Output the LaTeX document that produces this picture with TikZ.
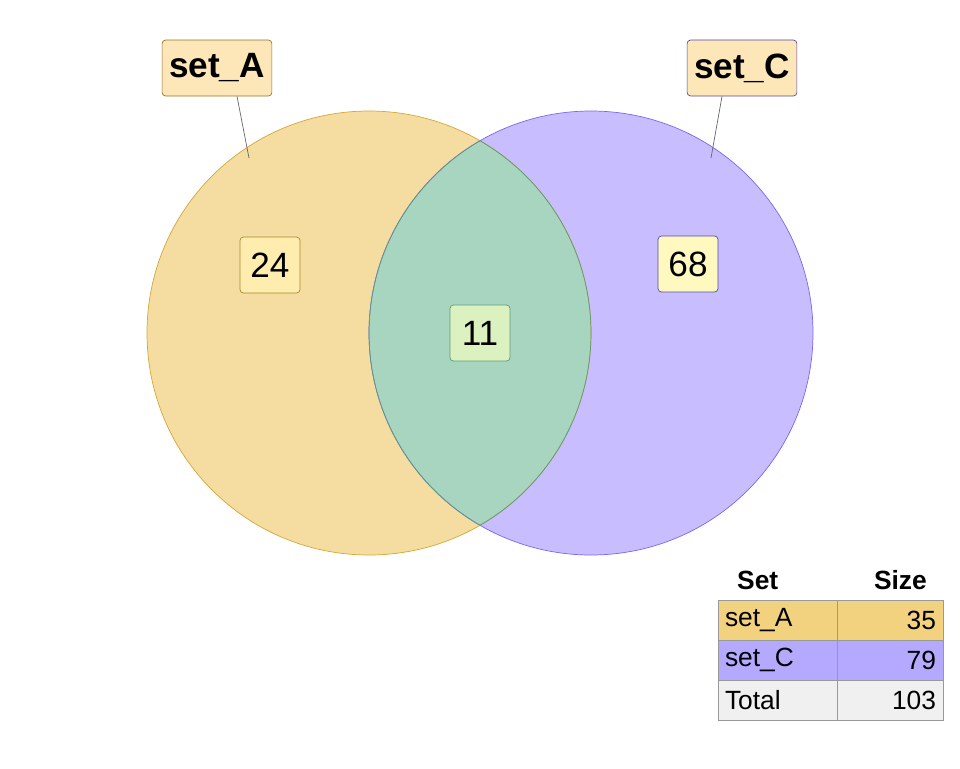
\documentclass[tikz,border=0pt]{standalone}
\usepackage{fontspec}
\setmainfont{Liberation Sans}
\definecolor{fillA}{HTML}{F5DCA0}
\definecolor{lineA}{HTML}{D4A838}
\definecolor{fillC}{HTML}{C8BEFF}
\definecolor{lineC}{HTML}{7B68EE}
\definecolor{fillAC}{HTML}{A8D5BF}
\definecolor{lineAC}{HTML}{5E9A7A}
\definecolor{rowA}{HTML}{F2D27E}
\definecolor{rowC}{HTML}{B4A8FF}
\definecolor{rowT}{HTML}{F0F0F0}
\begin{document}
\begin{tikzpicture}[x=0.02cm,y=-0.02cm]
  \tikzstyle{setlabel}=[draw=#1!70!black,fill=yellow!30!orange!25!white,rounded corners=2pt,
    font=\fontsize{20}{22}\selectfont\bfseries,inner sep=4pt,minimum height=56*0.02cm]
  \tikzstyle{count}=[draw=#1,rounded corners=2pt,font=\fontsize{20}{22}\selectfont,inner sep=3pt,
    minimum height=56*0.02cm,minimum width=60*0.02cm]
  \tikzstyle{cell}=[draw=gray!80,minimum height=40*0.02cm,font=\fontsize{15}{17}\selectfont,inner sep=4pt]
  \useasboundingbox (0,0) rectangle (960,768);
  % circles
  \fill[fillA] (369,333) circle (222);
  \fill[fillC] (591,333) circle (222);
  \begin{scope}
    \clip (369,333) circle (222);
    \fill[fillAC] (591,333) circle (222);
  \end{scope}
  \draw[lineA] (369,333) circle (222);
  \draw[lineC] (591,333) circle (222);
  \begin{scope}
    \clip (369,333) circle (222);
    \draw[lineAC] (591,333) circle (222);
  \end{scope}
  \begin{scope}
    \clip (591,333) circle (222);
    \draw[lineAC] (369,333) circle (222);
  \end{scope}
  % labels
  \node[setlabel=lineA] (labA) at (217,68) {set\_A};
  \node[setlabel=lineC] (labC) at (742,68) {set\_C};
  \coordinate (tipA) at (249,158);
  \coordinate (tipC) at (711,158);
  \draw[black!60] (labA.south) ++(20*0.02cm,0) -- (tipA);
  \draw[black!60] (labC.south) ++(-20*0.02cm,0) -- (tipC);
  % counts
  \node[count=lineA!80!black,fill=yellow!60!orange!30!white] (nA) at (270,265) {24};
  \node[count=lineAC,fill=yellow!45!green!25!white] (nAC) at (480,333) {11};
  \node[count=lineC!70!black,fill=orange!20!yellow!25!white] (nC) at (688,264) {68};
  % table
  \node[font=\fontsize{15}{17}\selectfont\bfseries,anchor=west] (hSet) at (731,580) {Set};
  \node[font=\fontsize{15}{17}\selectfont\bfseries,anchor=east] (hSize) at (933,580) {Size};
  \foreach \n/\v/\c [count=\i] in {set\_A/35/rowA,set\_C/79/rowC,Total/103/rowT}{
    \node[cell,fill=\c,minimum width=119*0.02cm,text width=111*0.02cm,align=left]
      (name\i) at (780.5,580+40*\i) {\n};
    \node[cell,fill=\c,minimum width=100*0.02cm,text width=92*0.02cm,align=right]
      (size\i) at (890,580+40*\i) {\v};
  }
\end{tikzpicture}
\end{document}
